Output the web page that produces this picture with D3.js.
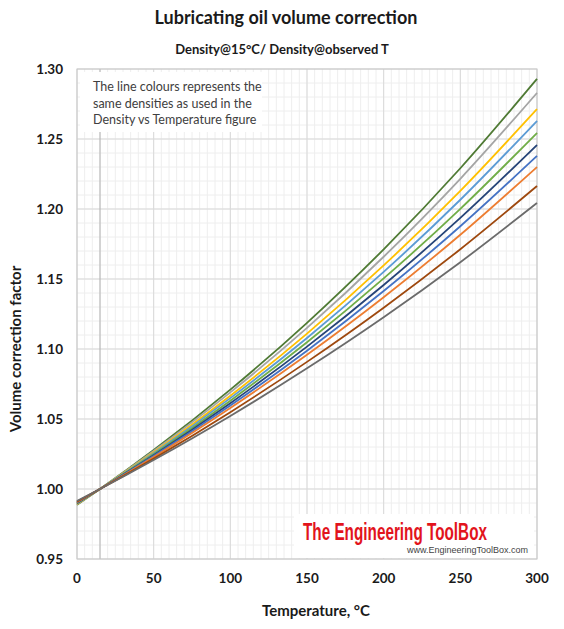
<!DOCTYPE html>
<html>
<head>
<meta charset="utf-8">
<script src="https://cdn.jsdelivr.net/npm/d3@7"></script>
<style>
  body { margin: 0; background: #fff; }
  text { font-family: Lato, "Open Sans", sans-serif; }
</style>
</head>
<body>
<div id="chart"></div>
<script>
var temps = [0, 15, 50, 100, 150, 200, 250, 300];

// volume correction factor, one array per density line (top to bottom at 300 °C)
var line1  = [0.9887, 1, 1.0278, 1.0710, 1.1187, 1.1712, 1.2291, 1.2929];
var line2  = [0.9890, 1, 1.0271, 1.0690, 1.1151, 1.1659, 1.2216, 1.2829];
var line3  = [0.9893, 1, 1.0262, 1.0666, 1.1110, 1.1597, 1.2130, 1.2714];
var line4  = [0.9896, 1, 1.0255, 1.0649, 1.1079, 1.1551, 1.2066, 1.2629];
var line5  = [0.9898, 1, 1.0248, 1.0631, 1.1048, 1.1504, 1.2001, 1.2543];
var line6  = [0.9901, 1, 1.0241, 1.0613, 1.1017, 1.1457, 1.1936, 1.2457];
var line7  = [0.9904, 1, 1.0235, 1.0596, 1.0988, 1.1414, 1.1877, 1.2379];
var line8  = [0.9906, 1, 1.0229, 1.0579, 1.0959, 1.1370, 1.1816, 1.2300];
var line9  = [0.9910, 1, 1.0217, 1.0549, 1.0908, 1.1295, 1.1713, 1.2164];
var line10 = [0.9915, 1, 1.0207, 1.0522, 1.0862, 1.1227, 1.1620, 1.2043];

var allLines = [line1, line2, line3, line4, line5, line6, line7, line8, line9, line10];
var colors = ["#4f7a34", "#a5a5a5", "#ffc000", "#5b9bd5", "#70ad47",
              "#264478", "#4472c4", "#ed7d31", "#9e480e", "#6b6b6b"];

var xTicks = [0, 50, 100, 150, 200, 250, 300];
var yTicks = [0.95, 1.00, 1.05, 1.10, 1.15, 1.20, 1.25, 1.30];

var W = 564, H = 629;
var pLeft = 77, pRight = 537, pTop = 69, pBottom = 559;

var svg = d3.select("#chart").append("svg").attr("width", W).attr("height", H);

var x = d3.scaleLinear().domain([0, 300]).range([pLeft, pRight]);
var y = d3.scaleLinear().domain([0.95, 1.30]).range([pBottom, pTop]);

// minor grid
var grid = svg.append("g");
grid.selectAll(".vmin").data(d3.range(5, 300, 5)).enter().append("line")
    .attr("x1", function (d) { return x(d); }).attr("x2", function (d) { return x(d); })
    .attr("y1", pTop).attr("y2", pBottom)
    .attr("stroke", "#eeeeee").attr("stroke-width", 1);
grid.selectAll(".hmin").data(d3.range(96, 130, 1).map(function (v) { return v / 100; })).enter().append("line")
    .attr("x1", pLeft).attr("x2", pRight)
    .attr("y1", function (d) { return y(d); }).attr("y2", function (d) { return y(d); })
    .attr("stroke", "#eeeeee").attr("stroke-width", 1);

// major grid
grid.selectAll(".vmaj").data(xTicks).enter().append("line")
    .attr("x1", function (d) { return x(d); }).attr("x2", function (d) { return x(d); })
    .attr("y1", pTop).attr("y2", pBottom)
    .attr("stroke", "#d9d9d9").attr("stroke-width", 1);
grid.selectAll(".hmaj").data(yTicks).enter().append("line")
    .attr("x1", pLeft).attr("x2", pRight)
    .attr("y1", function (d) { return y(d); }).attr("y2", function (d) { return y(d); })
    .attr("stroke", "#d9d9d9").attr("stroke-width", 1);

// reference temperature 15 °C
grid.append("line")
    .attr("x1", x(15)).attr("x2", x(15)).attr("y1", pTop).attr("y2", pBottom)
    .attr("stroke", "#b0b0b0").attr("stroke-width", 1);

// plot frame
svg.append("rect").attr("x", pLeft).attr("y", pTop)
    .attr("width", pRight - pLeft).attr("height", pBottom - pTop)
    .attr("fill", "none").attr("stroke", "#c8c8c8");

// note box
svg.append("rect").attr("x", 80).attr("y", 72).attr("width", 182).attr("height", 60).attr("fill", "#fff");
var note = ["The line colours represents the", "same densities as used in the", "Density vs Temperature figure"];
svg.selectAll(".note").data(note).enter().append("text")
    .attr("x", 93).attr("y", function (d, i) { return 91 + i * 16.5; })
    .attr("font-size", 12.5).attr("fill", "#404040").text(function (d) { return d; });

// logo (tall, narrow lettering)
svg.append("rect").attr("x", 294).attr("y", 514).attr("width", 240).attr("height", 44).attr("fill", "#fff");
var logoG = svg.append("g").attr("transform", "translate(303,540) scale(1,1.55)");
var logo = logoG.append("text").attr("x", 0).attr("y", 0)
    .style("font-family", "'Liberation Sans Narrow', 'Liberation Sans', sans-serif")
    .attr("font-weight", "bold").attr("font-size", 16).attr("fill", "#e2141c")
    .text("The Engineering ToolBox");
var logoLen = logo.node().getComputedTextLength();
logo.attr("font-size", 16 * 184 / logoLen);
svg.append("text").attr("x", 528).attr("y", 553).attr("text-anchor", "end")
    .style("font-family", "'Liberation Sans', Arial, sans-serif")
    .attr("font-size", 9).attr("fill", "#444").text("www.EngineeringToolBox.com");

// lines
var lineGen = d3.line()
    .x(function (d, i) { return x(temps[i]); })
    .y(function (d) { return y(d); })
    .curve(d3.curveMonotoneX);
svg.selectAll(".series").data(allLines).enter().append("path")
    .attr("d", lineGen)
    .attr("fill", "none")
    .attr("stroke", function (d, i) { return colors[i]; })
    .attr("stroke-width", 1.8);

// axes labels
svg.selectAll(".yt").data(yTicks).enter().append("text")
    .attr("x", 63).attr("y", function (d) { return y(d) + 5; })
    .attr("text-anchor", "end").attr("font-weight", "bold").attr("font-size", 13.5)
    .attr("fill", "#1a1a1a").text(function (d) { return d3.format(".2f")(d); });
svg.selectAll(".xt").data(xTicks).enter().append("text")
    .attr("x", function (d) { return x(d); }).attr("y", 583)
    .attr("text-anchor", "middle").attr("font-weight", "bold").attr("font-size", 13.5)
    .attr("fill", "#1a1a1a").text(function (d) { return d; });

svg.append("text").attr("x", 316).attr("y", 616).attr("text-anchor", "middle")
    .attr("font-weight", "bold").attr("font-size", 15).attr("fill", "#1a1a1a")
    .text("Temperature, °C");
svg.append("text").attr("transform", "translate(21,349) rotate(-90)").attr("text-anchor", "middle")
    .attr("font-weight", "bold").attr("font-size", 15).attr("fill", "#1a1a1a")
    .text("Volume correction factor");

// titles
svg.append("text").attr("x", 286).attr("y", 24).attr("text-anchor", "middle")
    .attr("font-weight", "bold").attr("font-size", 18).attr("fill", "#1a1a1a")
    .text("Lubricating oil volume correction");
svg.append("text").attr("x", 282).attr("y", 54).attr("text-anchor", "middle")
    .attr("font-weight", "bold").attr("font-size", 13).attr("fill", "#1a1a1a")
    .text("Density@15°C/ Density@observed T");
</script>
</body>
</html>
